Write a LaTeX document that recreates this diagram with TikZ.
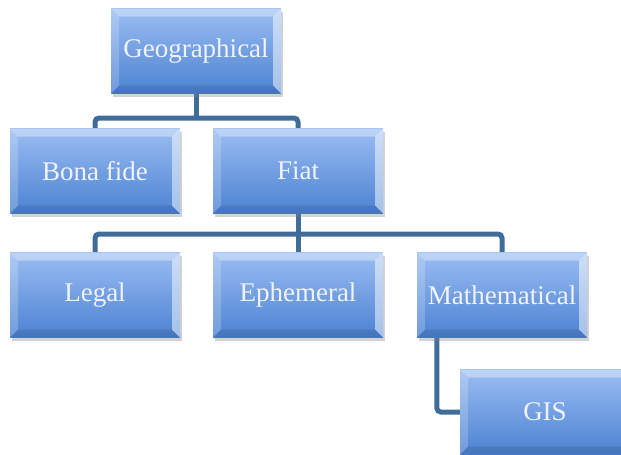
\documentclass[tikz,border=0pt]{standalone}
\usepackage{fontspec}
\setmainfont{Liberation Serif}
\usetikzlibrary{shadows,backgrounds}

\definecolor{boxtop}{HTML}{9ABDF2}
\definecolor{boxbot}{HTML}{4C82D2}
\definecolor{linkblue}{HTML}{3F6C98}

\tikzset{
  conceptbox/.style={rectangle, minimum width=170pt, minimum height=85pt,
    top color=boxtop, bottom color=boxbot,
    drop shadow={opacity=0.35, shadow xshift=2pt, shadow yshift=-3pt},
    text=white!95!blue, font=\fontsize{27}{30}\selectfont, inner sep=0pt,
    path picture={
      \fill[white, opacity=0.35] (path picture bounding box.north west) -- (path picture bounding box.north east)
        -- ([xshift=-8pt,yshift=-8pt]path picture bounding box.north east) -- ([xshift=8pt,yshift=-8pt]path picture bounding box.north west) -- cycle;
      \fill[white, opacity=0.2] (path picture bounding box.north west) -- (path picture bounding box.south west)
        -- ([xshift=8pt,yshift=8pt]path picture bounding box.south west) -- ([xshift=8pt,yshift=-8pt]path picture bounding box.north west) -- cycle;
      \fill[black, opacity=0.1] (path picture bounding box.south west) -- (path picture bounding box.south east)
        -- ([xshift=-8pt,yshift=8pt]path picture bounding box.south east) -- ([xshift=8pt,yshift=8pt]path picture bounding box.south west) -- cycle;
      \fill[white, opacity=0.5] (path picture bounding box.north east) -- (path picture bounding box.south east)
        -- ([xshift=-8pt,yshift=8pt]path picture bounding box.south east) -- ([xshift=-8pt,yshift=-8pt]path picture bounding box.north east) -- cycle;
    }},
  link/.style={draw=linkblue, line width=5pt, rounded corners=4pt}
}

\begin{document}
\begin{tikzpicture}[x=1pt, y=-1pt]

\useasboundingbox (0,0) rectangle (621,455);
\clip (0,0) rectangle (621,455);

% Boxes
\node[conceptbox] (geo)   at (196,51)  {Geographical};
\node[conceptbox] (bona)  at (95,171)  {Bona fide};
\node[conceptbox] (fiat)  at (298,171) {Fiat};
\node[conceptbox] (legal) at (95,295)  {Legal};
\node[conceptbox] (eph)   at (298,295) {Ephemeral};
\node[conceptbox] (math)  at (502,295) {Mathematical};
\node[conceptbox] (gis)   at (545,412) {GIS};

% Junctions
\coordinate (topbus) at (196,118);
\coordinate (midbus) at (298,234);
\coordinate (mathdrop) at ([xshift=20pt]math.south west);

% Connectors
\begin{scope}[on background layer]
\draw[link] (geo.south) -- (topbus);
\draw[link] (topbus) -| (bona.north);
\draw[link] (topbus) -| (fiat.north);
\draw[link] (fiat.south) -- (midbus);
\draw[link] (midbus) -| (legal.north);
\draw[link] (midbus) -| (eph.north);
\draw[link] (midbus) -| (math.north);
\draw[link] (mathdrop) |- (gis.west);
\end{scope}

\end{tikzpicture}
\end{document}
